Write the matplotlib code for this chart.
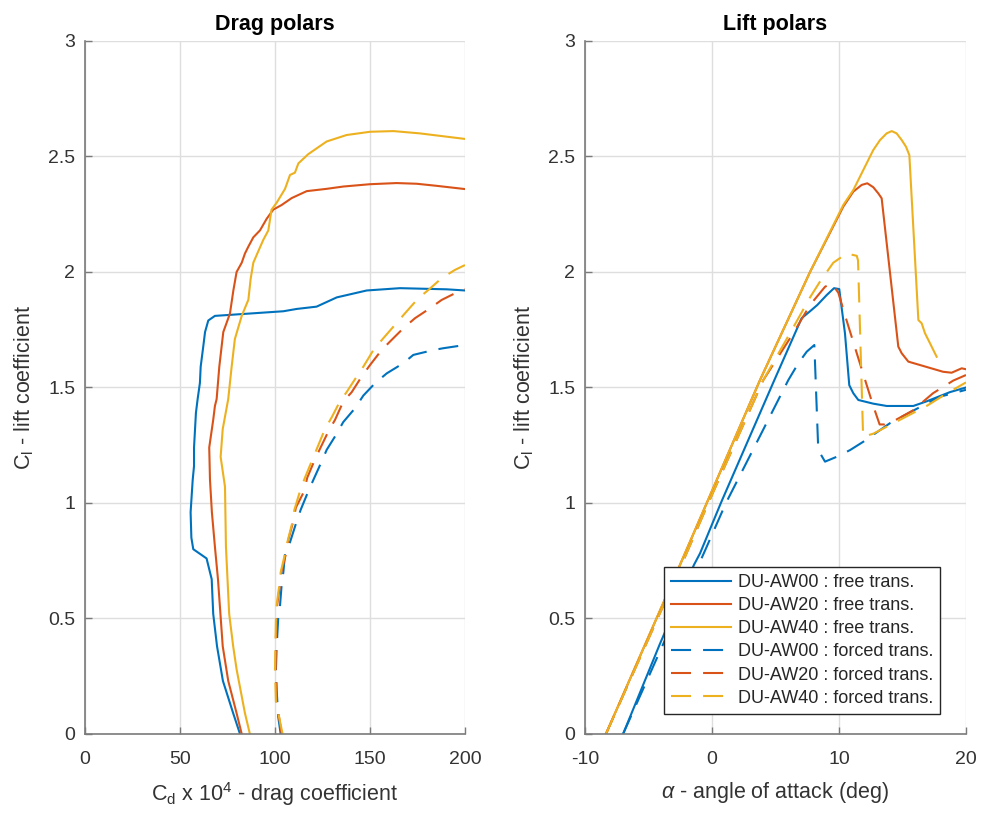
"""
DU-AW 翼型 — 阻力极曲线与升力极曲线（自由转捩 / 强制转捩）
"""

import matplotlib
matplotlib.use('Agg')
import matplotlib.pyplot as plt

plt.rcParams['font.family'] = ['Liberation Sans', 'DejaVu Sans']
plt.rcParams['mathtext.fontset'] = 'custom'
plt.rcParams['mathtext.rm'] = 'Liberation Sans'
plt.rcParams['mathtext.it'] = 'Liberation Sans:italic'
plt.rcParams['axes.unicode_minus'] = False

# ═══════════════════════════════════════════════════════════
# 数据
# ═══════════════════════════════════════════════════════════

labels = ['DU-AW00 : free trans.', 'DU-AW20 : free trans.', 'DU-AW40 : free trans.',
          'DU-AW00 : forced trans.', 'DU-AW20 : forced trans.', 'DU-AW40 : forced trans.']
colors = ['#0072BD', '#D95319', '#EDB120']

# ── 阻力极曲线：Cd x 10^4 vs Cl ──
aw00_free_cd = [81.6, 78.0, 72.6, 69.5, 67.5, 66.7, 64.0, 57.0, 56.0, 55.6,
                56.7, 57.4, 57.4, 58.4, 59.3, 60.5, 60.9, 62.3, 63.2, 64.9,
                68.4, 104.4, 111.4, 121.9, 132.5, 148.3, 165.8, 190.4, 200.0]
aw00_free_cl = [0.00, 0.09, 0.23, 0.38, 0.52, 0.67, 0.76, 0.80, 0.85, 0.96,
                1.10, 1.16, 1.24, 1.39, 1.45, 1.52, 1.59, 1.68, 1.74, 1.79,
                1.81, 1.83, 1.84, 1.85, 1.89, 1.92, 1.93, 1.925, 1.92]

aw20_free_cd = [82.5, 79.8, 75.4, 72.5, 70.0, 68.4, 66.8, 65.8, 65.4, 67.5,
                68.4, 69.3, 70.7, 72.8, 76.3, 78.1, 79.8, 82.5, 84.2, 86.0,
                88.6, 92.1, 95.6, 99.1, 103.5, 108.8, 116.7, 127.2, 136.0, 150.0,
                164.0, 174.6, 185.1, 200.0]
aw20_free_cl = [0.00, 0.09, 0.23, 0.38, 0.67, 0.81, 0.96, 1.10, 1.24, 1.36,
                1.42, 1.45, 1.59, 1.74, 1.82, 1.92, 2.00, 2.04, 2.08, 2.11,
                2.15, 2.18, 2.23, 2.27, 2.29, 2.32, 2.35, 2.36, 2.37, 2.38,
                2.385, 2.382, 2.373, 2.359]

aw40_free_cd = [86.8, 84.2, 79.8, 78.0, 75.9, 74.2, 73.7, 71.4, 72.5, 75.4,
                77.2, 78.9, 82.5, 86.0, 87.2, 88.6, 90.7, 93.9, 96.5, 98.2,
                100.9, 105.3, 107.9, 110.5, 112.3, 117.5, 121.9, 127.2, 137.7, 150.0,
                162.3, 176.3, 200.0]
aw40_free_cl = [0.00, 0.09, 0.28, 0.38, 0.52, 0.81, 1.07, 1.20, 1.32, 1.45,
                1.59, 1.71, 1.81, 1.88, 1.97, 2.04, 2.08, 2.14, 2.18, 2.27,
                2.30, 2.36, 2.42, 2.43, 2.47, 2.51, 2.535, 2.565, 2.593, 2.607,
                2.61, 2.60, 2.576]

aw00_forced_cd = [103.0, 101.7, 100.9, 100.5, 100.9, 101.7, 102.6, 103.5, 104.4, 105.3,
                  107.9, 111.4, 113.5, 117.5, 120.2, 124.6, 127.2, 132.5, 135.9, 142.1,
                  146.5, 152.6, 158.8, 167.5, 172.8, 183.3, 188.6, 200.0]
aw00_forced_cl = [0.00, 0.075, 0.19, 0.28, 0.38, 0.50, 0.55, 0.645, 0.70, 0.78,
                  0.83, 0.92, 0.97, 1.05, 1.10, 1.18, 1.23, 1.30, 1.35, 1.41,
                  1.465, 1.518, 1.561, 1.605, 1.641, 1.662, 1.670, 1.684]

aw20_forced_cd = [103.5, 100.9, 100.4, 100.5, 100.9, 101.2, 102.6, 103.3, 105.8, 107.0,
                  109.6, 111.0, 115.3, 117.0, 121.1, 124.0, 128.1, 131.6, 136.0, 140.4,
                  145.6, 150.0, 156.1, 161.4, 167.5, 173.7, 181.6, 187.7, 196.5, 200.0]
aw20_forced_cl = [0.00, 0.14, 0.28, 0.42, 0.50, 0.56, 0.645, 0.70, 0.78, 0.84,
                  0.92, 0.98, 1.05, 1.11, 1.19, 1.24, 1.31, 1.36, 1.44, 1.48,
                  1.547, 1.597, 1.662, 1.706, 1.756, 1.80, 1.843, 1.879, 1.915, 1.925]

aw40_forced_cd = [104.0, 100.5, 100.0, 100.2, 100.5, 100.9, 102.3, 103.0, 105.3, 106.5,
                  109.3, 110.2, 113.5, 115.8, 119.8, 122.3, 126.3, 129.8, 134.2, 137.7,
                  143.0, 146.5, 151.8, 157.0, 162.3, 168.4, 175.4, 180.7, 187.7, 194.7,
                  200.0]
aw40_forced_cl = [0.00, 0.14, 0.28, 0.36, 0.50, 0.56, 0.645, 0.70, 0.78, 0.83,
                  0.92, 0.97, 1.06, 1.11, 1.19, 1.24, 1.32, 1.37, 1.44, 1.48,
                  1.547, 1.59, 1.662, 1.713, 1.763, 1.821, 1.886, 1.922, 1.973, 2.009,
                  2.03]

# ── 升力极曲线：alpha vs Cl ──
aw00_free_alpha = [-7.0, -4.1, -1.42, -0.94, 0.7, 4.91, 7.06, 7.72, 8.29, 9.03, 9.61,
                   10.02, 10.47, 10.81, 11.13, 11.52, 12.7, 13.76, 15.85, 16.9, 18.74, 20.0]
aw00_free_lift = [0.0, 0.39, 0.732, 0.782, 1.0, 1.532, 1.80, 1.83, 1.857, 1.90, 1.93,
                  1.926, 1.735, 1.51, 1.475, 1.446, 1.43, 1.42, 1.42, 1.44, 1.48, 1.50]

aw20_free_alpha = [-8.35, -2.52, 3.78, 7.72, 10.34, 11.13, 11.79, 12.23, 12.7, 13.1,
                   13.36, 14.67, 14.94, 15.46, 18.2, 18.87, 19.66, 20.0]
aw20_free_lift = [0.0, 0.732, 1.532, 2.0, 2.283, 2.348, 2.377, 2.384, 2.367, 2.34,
                  2.319, 1.677, 1.648, 1.612, 1.568, 1.564, 1.583, 1.579]

aw40_free_alpha = [-8.35, -2.52, 3.78, 7.72, 10.34, 11.13, 12.70, 13.23, 13.75, 14.15,
                   14.54, 14.94, 15.28, 15.54, 16.25, 16.51, 16.77, 17.17, 17.69]
aw40_free_lift = [0.0, 0.732, 1.532, 2.0, 2.29, 2.355, 2.528, 2.571, 2.60, 2.61,
                  2.60, 2.571, 2.542, 2.506, 1.792, 1.778, 1.735, 1.691, 1.633]

aw00_forced_alpha = [-7.0, -4.0, -0.5, 1.1, 3.78, 6.01, 6.80, 7.46, 8.06, 8.37,
                     8.90, 9.82, 10.87, 11.91, 14.0, 15.85, 17.95, 20.0]
aw00_forced_lift = [0.0, 0.37, 0.80, 1.0, 1.29, 1.532, 1.605, 1.655, 1.684, 1.229,
                    1.179, 1.20, 1.229, 1.265, 1.345, 1.40, 1.46, 1.49]

aw20_forced_alpha = [-8.35, -2.4, -0.29, 4.04, 6.40, 7.72, 8.90, 9.42, 9.95, 10.6,
                     11.9, 12.7, 13.2, 13.6, 14.15, 15.8, 17.4, 19.0, 20.0]
aw20_forced_lift = [0.0, 0.732, 1.0, 1.532, 1.735, 1.857, 1.936, 1.951, 1.91, 1.79,
                    1.56, 1.42, 1.34, 1.34, 1.35, 1.40, 1.475, 1.53, 1.554]

aw40_forced_alpha = [-8.35, -2.4, -0.29, 4.04, 6.40, 7.72, 8.50, 9.55, 10.6, 11.4,
                     11.5, 11.9, 12.7, 14.8, 16.9, 18.5, 20.0]
aw40_forced_lift = [0.0, 0.732, 1.0, 1.532, 1.76, 1.89, 1.958, 2.04, 2.08, 2.07,
                    2.05, 1.287, 1.30, 1.36, 1.42, 1.475, 1.522]

# ═══════════════════════════════════════════════════════════
# 画图（仿 MATLAB 风格）
# ═══════════════════════════════════════════════════════════

dash = (0, (9.6, 5.8))
lw = 1.5
txt_color = '#333333'
axis_color = '#7a7a7a'

fig = plt.figure(figsize=(9.81, 8.15), dpi=100)
ax1 = fig.add_axes([0.0866, 0.0994, 0.3874, 0.8503])
ax2 = fig.add_axes([0.5963, 0.0994, 0.3884, 0.8503])

drag_sets = [(aw00_free_cd, aw00_free_cl), (aw20_free_cd, aw20_free_cl), (aw40_free_cd, aw40_free_cl),
             (aw00_forced_cd, aw00_forced_cl), (aw20_forced_cd, aw20_forced_cl), (aw40_forced_cd, aw40_forced_cl)]
lift_sets = [(aw00_free_alpha, aw00_free_lift), (aw20_free_alpha, aw20_free_lift), (aw40_free_alpha, aw40_free_lift),
             (aw00_forced_alpha, aw00_forced_lift), (aw20_forced_alpha, aw20_forced_lift),
             (aw40_forced_alpha, aw40_forced_lift)]

for i, (x, y) in enumerate(drag_sets):
    ls = '-' if i < 3 else dash
    ax1.plot(x, y, color=colors[i % 3], linestyle=ls, linewidth=lw)

for i, (x, y) in enumerate(lift_sets):
    ls = '-' if i < 3 else dash
    ax2.plot(x, y, color=colors[i % 3], linestyle=ls, linewidth=lw, label=labels[i])

ax1.set_xlim(0, 200)
ax1.set_xticks([0, 50, 100, 150, 200])
ax2.set_xlim(-10, 20)
ax2.set_xticks([-10, 0, 10, 20])

for ax in (ax1, ax2):
    ax.set_ylim(0, 3)
    ax.set_yticks([0, 0.5, 1, 1.5, 2, 2.5, 3])
    ax.set_yticklabels(['0', '0.5', '1', '1.5', '2', '2.5', '3'])
    ax.grid(True, color='#dedede', linewidth=1.0)
    ax.set_axisbelow(True)
    ax.spines['top'].set_visible(False)
    ax.spines['right'].set_visible(False)
    for s in ('left', 'bottom'):
        ax.spines[s].set_color(axis_color)
        ax.spines[s].set_linewidth(1.2)
    ax.tick_params(direction='in', length=5, width=1.0, color=axis_color,
                   labelsize=14, labelcolor=txt_color, pad=7)
    ax.tick_params(axis='x', pad=12)
    ax.set_ylabel(r'$\mathregular{C_l}$ - lift coefficient', fontsize=15.5,
                  color=txt_color, labelpad=9)

ax1.set_xlabel(r'$\mathregular{C_d\ x\ 10^4}$ - drag coefficient', fontsize=15.5,
               color=txt_color, labelpad=9)
ax2.set_xlabel(r'$\alpha$ - angle of attack (deg)', fontsize=15.5,
               color=txt_color, labelpad=9)
ax1.set_title('Drag polars', fontsize=15.5, fontweight='bold', pad=8)
ax2.set_title('Lift polars', fontsize=15.5, fontweight='bold', pad=8)

leg = ax2.legend(loc='lower right', bbox_to_anchor=(0.933, 0.029), borderaxespad=0,
                 fontsize=13, handlelength=3.3, handletextpad=0.4, labelspacing=0.34,
                 borderpad=0.4, fancybox=False, framealpha=1)
leg.get_frame().set_edgecolor('#262626')
leg.get_frame().set_linewidth(1.0)
for t in leg.get_texts():
    t.set_color('#262626')

fig.savefig('out.png', dpi=100, facecolor='white')
plt.close(fig)
print("图已保存")
